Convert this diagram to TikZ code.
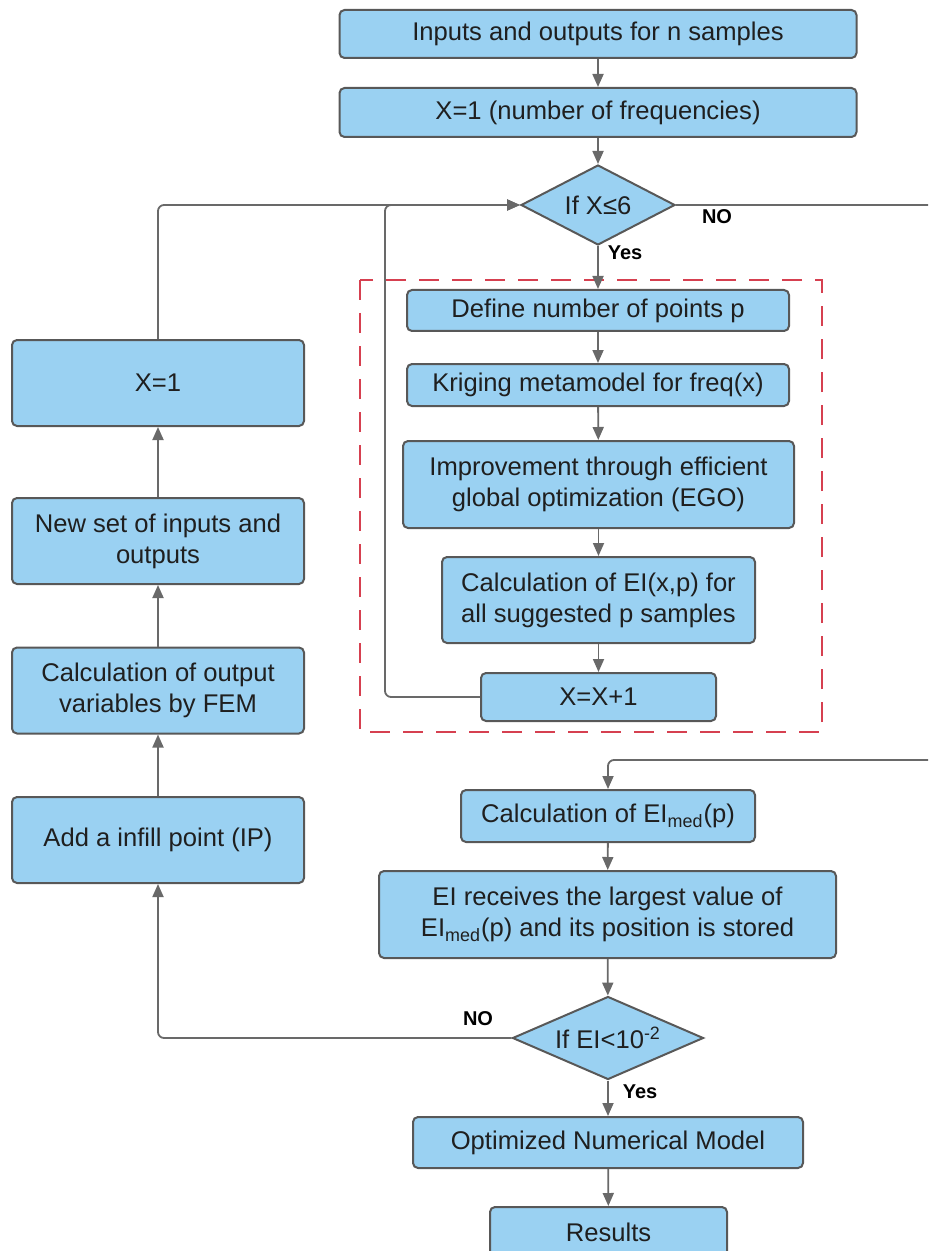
\documentclass[tikz,border=0pt]{standalone}
\usepackage{fontspec}
\setmainfont{Liberation Sans}
\usetikzlibrary{shapes.geometric,arrows.meta}

\definecolor{boxfill}{RGB}{154,209,242}
\definecolor{boxline}{RGB}{88,88,88}
\definecolor{linegray}{RGB}{105,105,105}
\definecolor{dashred}{RGB}{214,64,80}

\tikzset{
  box/.style={draw=boxline, fill=boxfill, line width=1pt, rounded corners=2.5pt,
    align=center, inner sep=0pt, text=black!88, font=\fontsize{12.8}{15.5}\selectfont},
  decision/.style={diamond, aspect=2, draw=boxline, fill=boxfill, line width=1pt,
    inner sep=0pt, text=black!88, font=\fontsize{12.8}{15.5}\selectfont},
  arrow/.style={draw=linegray, line width=0.9pt, rounded corners=3pt,
    -{Triangle[length=6.5pt,width=5.5pt]}},
  answer/.style={font=\fontsize{10}{12}\selectfont\bfseries, text=black}
}

\begin{document}
\begin{tikzpicture}[x=0.5pt,y=-0.5pt]
\clip (0,0) rectangle (928,1251);

\draw[dashred, line width=1.4pt, dash pattern=on 10pt off 6.5pt] (360,280) rectangle (822,732);

\node[box, minimum width=258.5pt, minimum height=24pt] (inputs) at (598,34) {Inputs and outputs for n samples};
\node[box, minimum width=258.5pt, minimum height=24.5pt] (xone) at (598,112.5) {X=1 (number of frequencies)};
\node[decision, minimum width=77pt, minimum height=40pt] (ifx) at (598,205) {If X≤6};

\node[box, minimum width=191pt, minimum height=20.5pt] (points) at (598,310.5) {Define number of points p};
\node[box, minimum width=191pt, minimum height=21pt] (kriging) at (598,385) {Kriging metamodel for freq(x)};
\node[box, minimum width=195.5pt, minimum height=43.5pt] (ego) at (598.5,484.5) {Improvement through efficient\\global optimization (EGO)};
\node[box, minimum width=156.5pt, minimum height=43pt] (eicalc) at (598.5,600) {Calculation of EI(x,p) for\\all suggested p samples};
\node[box, minimum width=117.5pt, minimum height=24pt] (xinc) at (598.5,697) {X=X+1};

\node[box, minimum width=147pt, minimum height=26pt] (eimed) at (608,816) {Calculation of EI\textsubscript{med}(p)};
\node[box, minimum width=228.5pt, minimum height=43.5pt] (eimax) at (607.5,914.5) {EI receives the largest value of\\EI\textsubscript{med}(p) and its position is stored};
\node[decision, minimum width=95.5pt, minimum height=41.5pt] (ifei) at (608,1038) {If EI<10\textsuperscript{-2}};
\node[box, minimum width=195pt, minimum height=25.5pt] (model) at (608,1142.5) {Optimized Numerical Model};
\node[box, minimum width=118.5pt, minimum height=25pt] (results) at (608.5,1232) {Results};

\node[box, minimum width=146pt, minimum height=43pt] (xreset) at (158,383) {X=1};
\node[box, minimum width=146pt, minimum height=43pt] (newset) at (158,541) {New set of inputs and\\outputs};
\node[box, minimum width=146pt, minimum height=43pt] (fem) at (158,690.5) {Calculation of output\\variables by FEM};
\node[box, minimum width=146pt, minimum height=43pt] (infill) at (158,840) {Add a infill point (IP)};

\node[answer] (noone) at (717,217) {NO};
\node[answer] (yesone) at (625,253) {Yes};
\node[answer] (notwo) at (478,1019) {NO};
\node[answer] (yestwo) at (640,1092) {Yes};

\coordinate (loop) at (385,205);
\coordinate (rtop) at (945,205);
\coordinate (rbot) at (945,760);

\draw[arrow] (inputs) -- (xone);
\draw[arrow] (xone) -- (ifx);
\draw[arrow] (ifx) -- (points);
\draw[arrow] (points) -- (kriging);
\draw[arrow] (kriging) -- (ego);
\draw[arrow] (ego) -- (eicalc);
\draw[arrow] (eicalc) -- (xinc);
\draw[arrow] (xinc.west) -| (loop) -- (ifx.west);
\draw[arrow] (xreset.north) |- (ifx.west);
\draw[arrow] (ifx.east) -- (rtop) -- (rbot) -| (eimed.north);

\draw[arrow] (eimed) -- (eimax);
\draw[arrow] (eimax) -- (ifei);
\draw[arrow] (ifei) -- (model);
\draw[arrow] (model) -- (results);
\draw[arrow] (ifei.west) -| (infill.south);

\draw[arrow] (infill) -- (fem);
\draw[arrow] (fem) -- (newset);
\draw[arrow] (newset) -- (xreset);
\end{tikzpicture}
\end{document}
